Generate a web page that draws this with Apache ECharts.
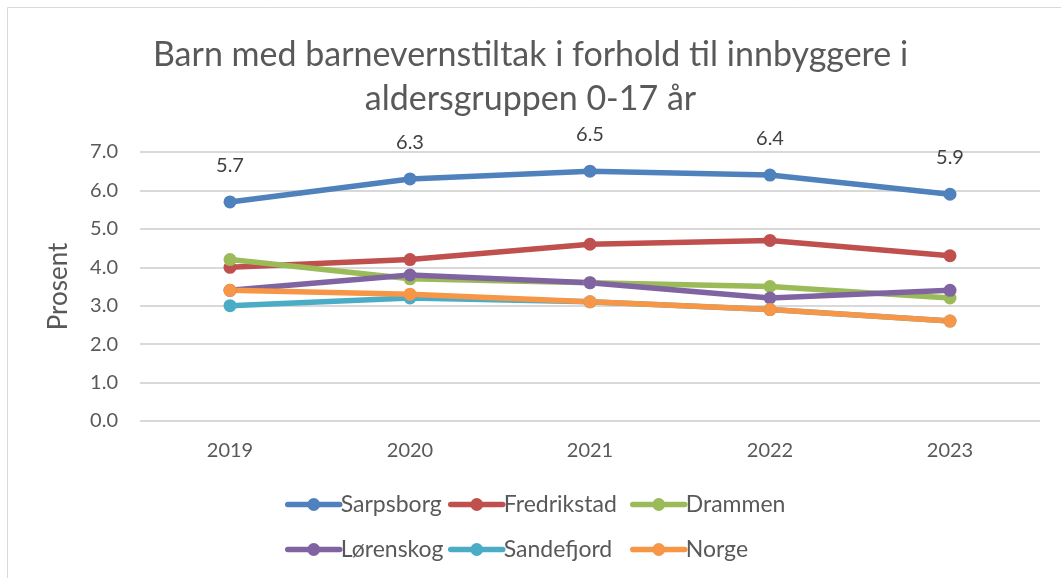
<!DOCTYPE html>
<html><head><meta charset="utf-8">
<script src="https://cdn.jsdelivr.net/npm/echarts@6/dist/echarts.min.js"></script>
<style>html,body{margin:0;padding:0;background:#fff}#c{width:1061px;height:578px}</style>
</head><body><div id="c"></div>
<script>
const years = ['2019','2020','2021','2022','2023'];
const sarpsborg = [5.7, 6.3, 6.5, 6.4, 5.9];
const fredrikstad = [4.0, 4.2, 4.6, 4.7, 4.3];
const drammen = [4.2, 3.7, 3.6, 3.5, 3.2];
const lorenskog = [3.4, 3.8, 3.6, 3.2, 3.4];
const sandefjord = [3.0, 3.2, 3.1, 2.9, 2.6];
const norge = [3.4, 3.3, 3.1, 2.9, 2.6];
const yTicks = [0,1,2,3,4,5,6,7];
const titleText = 'Barn med barnevernstiltak i forhold til innbyggere i\naldersgruppen 0-17 år';

const FONT = 'Lato';
const TXT = '#595959';
function mk(name, data, color, label){
  return {
    name, type:'line', data, color,
    symbol:'circle', symbolSize:13,
    lineStyle:{width:5.5, color, cap:'round', join:'round'},
    itemStyle:{color},
    label: label ? {show:true, position:'top', distance:20, fontFamily:FONT, fontSize:20, color:'#404040', formatter:p=>p.value.toFixed(1)} : {show:false},
    z: 2
  };
}
function lg(items, left){
  return {data:items, left:left, top:488, orient:'vertical', itemWidth:52, itemHeight:16, itemGap:22,
    itemStyle:{borderWidth:0}, lineStyle:{width:5.5},
    textStyle:{fontFamily:FONT, fontSize:23, color:TXT, padding:[0,0,0,-4]}};
}
const chart = echarts.init(document.getElementById('c'));
chart.setOption({
  animation:false,
  textStyle:{fontFamily:FONT},
  graphic:[{type:'rect', shape:{x:7.5,y:7.5,width:1070,height:600}, style:{fill:'none', stroke:'#d9d9d9', lineWidth:1}, silent:true}],
  title:{text:titleText, left:'center', top:28, textStyle:{fontFamily:FONT, fontSize:34, fontWeight:'normal', color:TXT, lineHeight:44}},
  grid:{left:140, right:21, top:152, bottom:157},
  xAxis:{type:'category', data:years, boundaryGap:true,
    axisLine:{show:false}, axisTick:{show:false},
    axisLabel:{fontFamily:FONT, fontSize:20, color:TXT, margin:20}},
  yAxis:{type:'value', min:yTicks[0], max:yTicks[yTicks.length-1], interval:1,
    name:'Prosent', nameLocation:'middle', nameGap:68, nameRotate:90,
    nameTextStyle:{fontFamily:FONT, fontSize:26, color:TXT},
    axisLabel:{fontFamily:FONT, fontSize:20, color:TXT, margin:22, formatter:v=>v.toFixed(1)},
    splitLine:{lineStyle:{color:'#d9d9d9', width:2}}},
  legend:[
    lg(['Sarpsborg','Lørenskog'], 280),
    lg(['Fredrikstad','Sandefjord'], 443),
    lg(['Drammen','Norge'], 625)
  ],
  series:[
    mk('Sarpsborg', sarpsborg, '#4F81BD', true),
    mk('Fredrikstad', fredrikstad, '#C0504D'),
    mk('Drammen', drammen, '#9BBB59'),
    mk('Lørenskog', lorenskog, '#8064A2'),
    mk('Sandefjord', sandefjord, '#4BACC6'),
    mk('Norge', norge, '#F79646')
  ]
});
</script></body></html>
